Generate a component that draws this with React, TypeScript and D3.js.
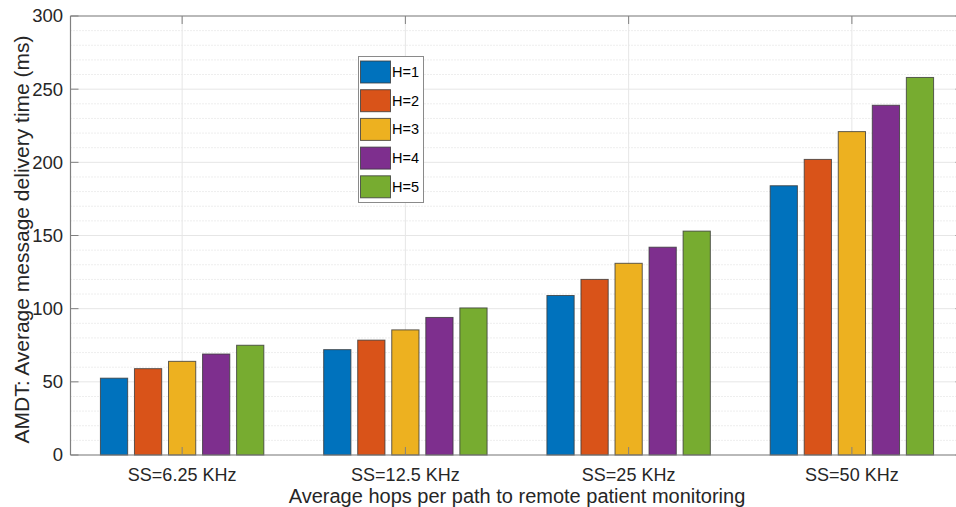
import React from "react";
import * as d3 from "d3";

const categories = ["SS=6.25 KHz", "SS=12.5 KHz", "SS=25 KHz", "SS=50 KHz"];
const seriesNames = ["H=1", "H=2", "H=3", "H=4", "H=5"];
const h1 = [52.5, 72, 109, 184];
const h2 = [59, 78.5, 120, 202];
const h3 = [64, 85.5, 131, 221];
const h4 = [69, 94, 142, 239];
const h5 = [75, 100.5, 153, 258];
const seriesValues = [h1, h2, h3, h4, h5];
const colors = ["#0072BD", "#D95319", "#EDB120", "#7E2F8E", "#77AC30"];
const yTicks = [0, 50, 100, 150, 200, 250, 300];

const W = 956, H = 507;
const left = 70.5, right = 963.5, top = 16, bottom = 455;
const font = "Liberation Sans, Arial, sans-serif";

export default function App() {
  const x = d3.scaleLinear().domain([0.5, 4.5]).range([left, right]);
  const y = d3.scaleLinear().domain([0, 300]).range([bottom, top]);
  const pxPerCat = x(2) - x(1);
  const step = pxPerCat * 0.1525;
  const barW = step * 0.8;
  const minor = d3.range(0, 301, 10).filter((v) => v % 50 !== 0);
  const axisColor = "#808080";
  return (
    <svg width={W} height={H} style={{ position: "absolute", left: 0, top: 0, background: "#fff" }} fontFamily={font}>
      <rect x={0} y={0} width={W} height={H} fill="#fff" />
      {minor.map((v) => (
        <line key={"m" + v} x1={left} x2={right} y1={y(v)} y2={y(v)} stroke="#dcdcdc" strokeWidth={1} strokeDasharray="1,2" />
      ))}
      {yTicks.map((v) => (
        <line key={"g" + v} x1={left} x2={right} y1={y(v)} y2={y(v)} stroke="#e6e6e6" strokeWidth={1} />
      ))}
      {categories.map((c, i) => (
        <line key={"vg" + i} x1={x(i + 1)} x2={x(i + 1)} y1={top} y2={bottom} stroke="#e6e6e6" strokeWidth={1} />
      ))}
      {seriesValues.map((vals, s) =>
        vals.map((v, i) => {
          const cx = x(i + 1) + (s - 2) * step;
          return (
            <rect key={s + "-" + i} x={cx - barW / 2} y={y(v)} width={barW} height={y(0) - y(v)}
              fill={colors[s]} stroke="#3a3a3a" strokeOpacity={0.8} strokeWidth={1} />
          );
        })
      )}
      <line x1={left} x2={right} y1={bottom} y2={bottom} stroke={axisColor} strokeWidth={1.2} />
      <line x1={left} x2={right} y1={top} y2={top} stroke={axisColor} strokeWidth={1.2} />
      <line x1={left} x2={left} y1={top} y2={bottom} stroke={axisColor} strokeWidth={1.2} />
      <line x1={right} x2={right} y1={top} y2={bottom} stroke={axisColor} strokeWidth={1.2} />
      {yTicks.map((v) => (
        <g key={"yt" + v}>
          <line x1={left} x2={left + 8} y1={y(v)} y2={y(v)} stroke={axisColor} />
          <line x1={right} x2={right - 8} y1={y(v)} y2={y(v)} stroke={axisColor} />
          <text x={63} y={y(v)} dy="0.35em" textAnchor="end" fontSize={18.5} fill="#262626">{v}</text>
        </g>
      ))}
      {categories.map((c, i) => (
        <g key={"xt" + i}>
          <line x1={x(i + 1)} x2={x(i + 1)} y1={bottom} y2={bottom - 8} stroke={axisColor} />
          <line x1={x(i + 1)} x2={x(i + 1)} y1={top} y2={top + 8} stroke={axisColor} />
          <text x={x(i + 1)} y={481} textAnchor="middle" fontSize={18} fill="#262626">{c}</text>
        </g>
      ))}
      <text x={(left + right) / 2} y={503} textAnchor="middle" fontSize={20} fill="#262626">
        Average hops per path to remote patient monitoring
      </text>
      <text transform={`translate(29,${(top + bottom) / 2 + 4}) rotate(-90)`} textAnchor="middle" fontSize={21} fill="#262626">
        AMDT: Average message delivery time (ms)
      </text>
      <rect x={358.5} y={56.5} width={65} height={146} fill="#fff" stroke="#8a8a8a" strokeWidth={1} />
      {seriesNames.map((n, s) => (
        <g key={"lg" + s}>
          <rect x={360.5} y={61 + s * 28.7} width={30} height={22} fill={colors[s]} stroke="#3a3a3a" strokeOpacity={0.8} />
          <text x={392} y={72 + s * 28.7} dy="0.35em" fontSize={14.5} fill="#000">{n}</text>
        </g>
      ))}
    </svg>
  );
}
